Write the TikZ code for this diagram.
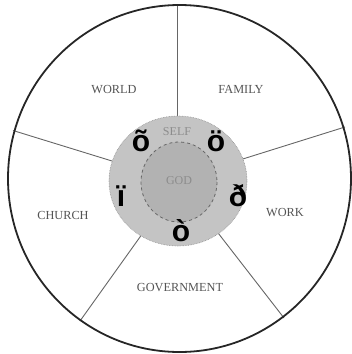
\documentclass[tikz,border=0pt]{standalone}
\usepackage{fontspec}
\setmainfont{Liberation Serif}
\newfontfamily\symfont{Liberation Sans}
\definecolor{lbl}{gray}{0.33}
\definecolor{ringfill}{gray}{0.77}
\definecolor{godfill}{gray}{0.70}
\definecolor{spoke}{gray}{0.40}
\tikzset{
  label text/.style={font=\fontsize{12.3}{13}\selectfont, text=lbl, inner sep=0pt},
  inner text/.style={font=\fontsize{12}{13}\selectfont, text=black!45, inner sep=0pt},
  glyph/.style={font=\symfont\bfseries\fontsize{30}{32}\selectfont, text=black, inner sep=0pt},
  spokeline/.style={draw=spoke, line width=0.9pt},
}
\begin{document}
\begin{tikzpicture}[x=1pt,y=-1pt]
\useasboundingbox (0,0) rectangle (352,354);
% spoke ends
\coordinate (tA) at (177,4);      \coordinate (tB) at (177,140);
\coordinate (ulA) at (13,130.5);  \coordinate (ulB) at (125,165);
\coordinate (urA) at (345,127);   \coordinate (urB) at (230,163);
\coordinate (llA) at (80,321);    \coordinate (llB) at (150,223);
\coordinate (lrA) at (284,318);   \coordinate (lrB) at (208,220);
\draw[spokeline] (tA) -- (tB);
\draw[spokeline] (ulA) -- (ulB);
\draw[spokeline] (urA) -- (urB);
\draw[spokeline] (llA) -- (llB);
\draw[spokeline] (lrA) -- (lrB);
% outer boundary
\draw[black!85, line width=1.8pt] (179.5,178.5) ellipse [x radius=171.5, y radius=173.5];
% self ring
\fill[ringfill] (178,181) ellipse [x radius=69, y radius=65];
\draw[black!45, line width=0.6pt, densely dotted] (178,181) ellipse [x radius=69, y radius=65];
% god circle
\filldraw[fill=godfill, draw=black!60, line width=0.8pt, dashed] (179,182) ellipse [x radius=38, y radius=40];
% labels
\node[label text] (world) at (114,90) {WORLD};
\node[label text] (family) at (241,89) {FAMILY};
\node[label text] (church) at (63,215) {CHURCH};
\node[label text] (work) at (285,213) {WORK};
\node[label text] (govt) at (180,288) {GOVERNMENT};
\node[inner text] (self) at (177,132) {SELF};
\node[inner text] (god) at (179,181) {GOD};
% glyphs
\node[glyph] (g1) at (141,141) {õ};
\node[glyph] (g2) at (216,141) {ö};
\node[glyph] (g3) at (121,196) {ï};
\node[glyph] (g4) at (238,196) {ð};
\node[glyph] (g5) at (181,231) {ò};
\end{tikzpicture}
\end{document}
